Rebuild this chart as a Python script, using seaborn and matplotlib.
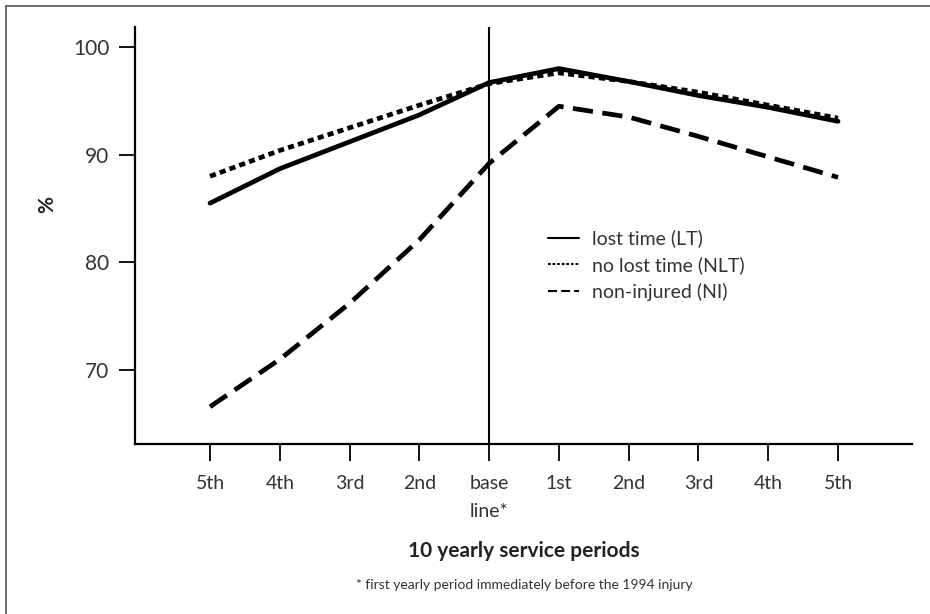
import matplotlib
matplotlib.use("Agg")
import matplotlib.pyplot as plt
from matplotlib.lines import Line2D
import seaborn as sns
import pandas as pd

periods = ["5th", "4th", "3rd", "2nd", "base\nline*", "1st", "2nd", "3rd", "4th", "5th"]
lost_time = [85.5, 88.7, 91.2, 93.7, 96.7, 98.0, 96.8, 95.5, 94.4, 93.1]
no_lost_time = [88.0, 90.4, 92.5, 94.6, 96.6, 97.6, 96.8, 95.8, 94.6, 93.4]
non_injured = [66.6, 71.0, 76.2, 82.1, 89.2, 94.5, 93.5, 91.7, 89.8, 87.9]
series_names = ["lost time (LT)", "no lost time (NLT)", "non-injured (NI)"]

rows = []
for name, vals in zip(series_names, [lost_time, no_lost_time, non_injured]):
    for i, v in enumerate(vals):
        rows.append({"pos": i, "value": v, "group": name})
df = pd.DataFrame(rows)

sns.set_style("white")
plt.rcParams["font.family"] = ["Lato", "DejaVu Sans"]
TXT = "#333333"

fig = plt.figure(figsize=(9.3, 6.14), dpi=100)
ax = fig.add_axes([135 / 930, 1 - 444 / 614, (912 - 135) / 930, (444 - 27) / 614])

dashes = {
    "lost time (LT)": "",
    "no lost time (NLT)": (1.3, 0.9),
    "non-injured (NI)": (4.3, 2.0),
}
sns.lineplot(data=df, x="pos", y="value", style="group", style_order=series_names,
             dashes=dashes, color="black", linewidth=3.4, ax=ax, legend=True)

ax.axvline(4, color="black", linewidth=1.5, zorder=1)

ax.set_xlim(-1.075, 10.06)
ax.set_ylim(63.14, 101.86)
ax.set_xticks(range(len(periods)))
ax.set_xticklabels(periods, fontsize=14, color=TXT, linespacing=1.75)
ax.set_yticks([70, 80, 90, 100])
ax.set_yticklabels(["70", "80", "90", "100"], fontsize=15, color=TXT)
ax.tick_params(axis="y", direction="out", length=11.5, width=1.3, color="black", pad=7, left=True)
ax.tick_params(axis="x", direction="out", length=12.5, width=1.3, color="black", pad=10, bottom=True)
for s in ["top", "right"]:
    ax.spines[s].set_visible(False)
for s in ["left", "bottom"]:
    ax.spines[s].set_linewidth(1.6)
    ax.spines[s].set_color("black")

ax.set_xlabel("")
ax.set_ylabel("")
fig.text(47 / 930, 1 - 205 / 614, "%", rotation=90, fontsize=15, fontweight="bold",
         color="#222222", ha="center", va="center")
fig.text(524 / 930, 1 - 551 / 614, "10 yearly service periods", fontsize=15,
         fontweight="bold", color="#222222", ha="center", va="center")
fig.text(524 / 930, 1 - 585 / 614, "* first yearly period immediately before the 1994 injury",
         fontsize=10, color=TXT, ha="center", va="center")

leg = ax.legend(loc="upper left", bbox_to_anchor=((538 - 135) / 777, (444 - 220) / 417),
                frameon=False, fontsize=14, handlelength=1.6, handletextpad=0.7,
                labelspacing=0.45, borderpad=0)
for h in leg.get_lines():
    h.set_linewidth(1.5)
for t in leg.get_texts():
    t.set_color(TXT)

# frame around the figure
fig.add_artist(Line2D([6 / 930, 1], [1 - 6 / 614, 1 - 6 / 614], color="#555555",
                      linewidth=1.2, transform=fig.transFigure))
fig.add_artist(Line2D([6 / 930, 6 / 930], [0, 1 - 6 / 614], color="#555555",
                      linewidth=1.2, transform=fig.transFigure))

fig.savefig("out.png", dpi=100)
